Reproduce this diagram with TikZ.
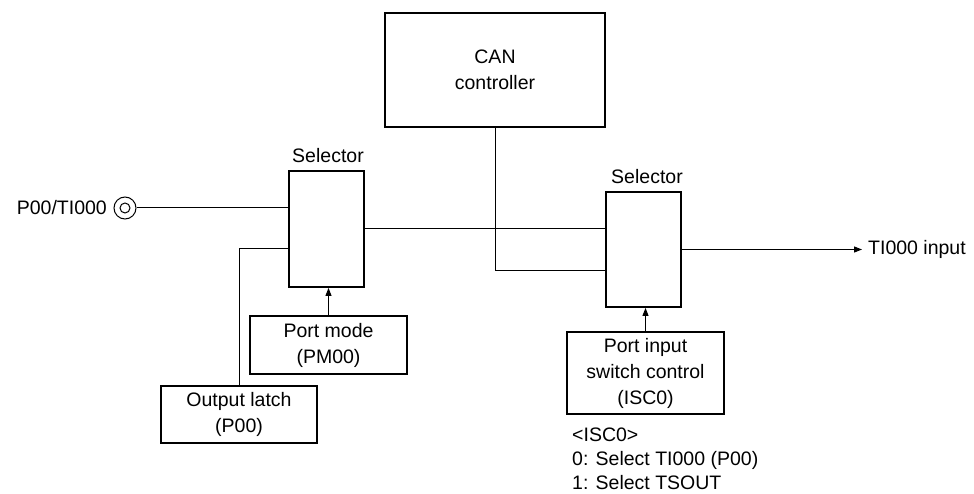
\documentclass[tikz,border=0pt]{standalone}
\usepackage{fontspec}
\setmainfont{Liberation Sans}
\usetikzlibrary{arrows.meta}
\tikzset{
  blk/.style={draw,line width=1.8pt,align=center,inner sep=0pt},
  wire/.style={line width=1pt},
  sig/.style={wire,-{Triangle[length=8pt,width=6pt]}},
  lbl/.style={inner sep=0pt}
}
\begin{document}
\begin{tikzpicture}[x=1pt,y=-1pt,font=\fontsize{19.5}{26}\selectfont]
  \useasboundingbox (0,0) rectangle (974,494);
  % blocks
  \node[blk,minimum width=220pt,minimum height=114pt] (can) at (495,70) {CAN\\controller};
  \node[blk,minimum width=75pt,minimum height=116pt] (selA) at (326.5,229) {};
  \node[blk,minimum width=75pt,minimum height=115pt] (selB) at (643.5,249.5) {};
  \node[blk,minimum width=157pt,minimum height=58pt] (pm) at (328.5,345) {Port mode\\(PM00)};
  \node[blk,minimum width=156pt,minimum height=57pt] (latch) at (239,414.5) {Output latch\\(P00)};
  \node[blk,minimum width=157pt,minimum height=82pt] (isc) at (645.5,373) {Port input\\switch control\\(ISC0)};
  \node[lbl] (selAlbl) at (328,156) {Selector};
  \node[lbl] (selBlbl) at (647,177) {Selector};
  % pin and output
  \node[circle,draw,line width=1pt,minimum size=22pt,inner sep=0pt] (term) at (125,208) {};
  \node[circle,draw,line width=1pt,minimum size=10pt,inner sep=0pt] (termin) at (term) {};
  \node[lbl,anchor=east] (pin) at (107,208) {P00/TI000};
  \node[lbl,inner xsep=6pt,anchor=west] (tin) at (862,249.5) {TI000 input};
  \node[lbl,anchor=north west,align=left,font=\fontsize{19.5}{24}\selectfont] (notes) at (572,428) {<ISC0>\\0: Select TI000 (P00)\\1: Select TSOUT};
  % wires
  \draw[wire] (term) -- (term -| selA.west);
  \draw[wire] (latch.north) |- ([yshift=-20pt]selA.west);
  \draw[wire] (selA.east) -- (selA.east -| selB.west);
  \draw[wire] (can.south) |- ([yshift=-21.5pt]selB.west);
  \draw[sig] (selB.east) -- (tin.west);
  \draw[sig] (pm.north) -- (pm.north |- selA.south);
  \draw[sig] (isc.north) -- (isc.north |- selB.south);
\end{tikzpicture}
\end{document}
